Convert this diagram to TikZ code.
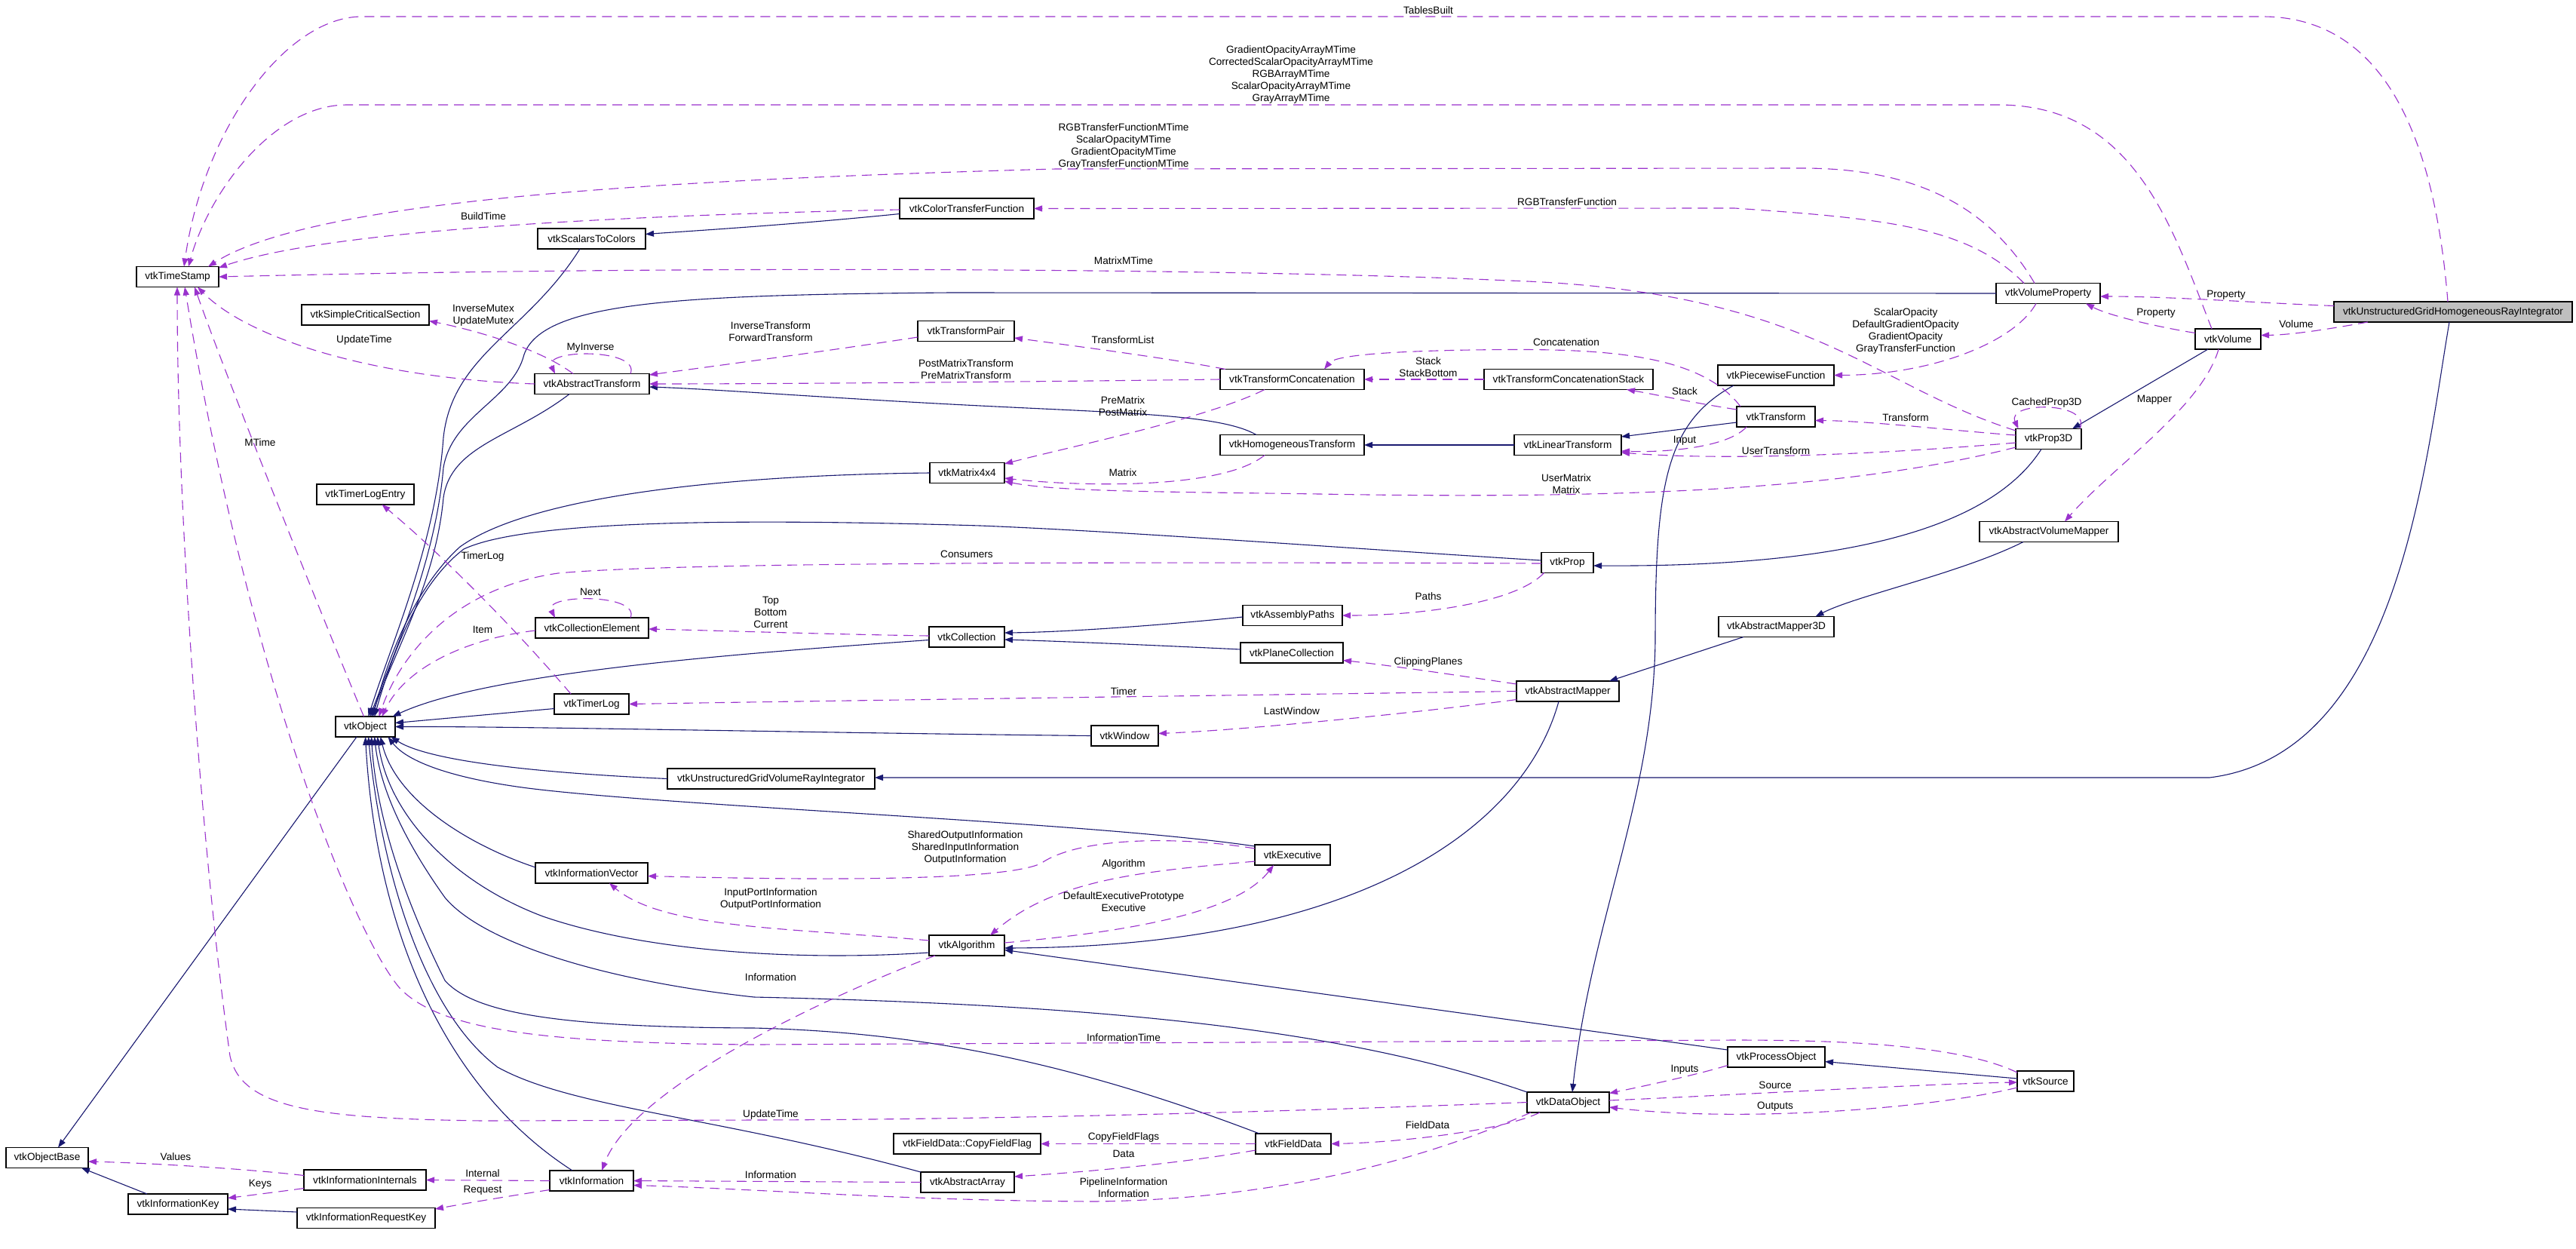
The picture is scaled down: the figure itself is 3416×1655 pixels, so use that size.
\documentclass[tikz,border=0pt]{standalone}
\usepackage{fontspec}
\setmainfont{Liberation Sans}
\usetikzlibrary{arrows.meta,calc}
\definecolor{inhcol}{HTML}{191970}
\definecolor{usecol}{HTML}{9A32CD}
\definecolor{grayfill}{HTML}{BFBFBF}
\begin{document}
\begin{tikzpicture}[x=1pt,y=-1pt,
  every node/.style={font=\fontsize{13.6}{16}\selectfont},
  cbox/.style={draw=black, line width=1.2pt, fill=white, minimum height=27pt, inner sep=0pt, outer sep=0pt},
  lbl/.style={align=center, inner sep=0pt},
  inhedge/.style={draw=inhcol, line width=1.1pt, -{Triangle[length=11pt,width=8pt]}},
  useedge/.style={draw=usecol, line width=1.1pt, dash pattern=on 13pt off 8pt, -{Triangle[length=11pt,width=8pt]}}]
\fill[white] (0,0) rectangle (3416,1655);
\useasboundingbox (0,0) rectangle (3416,1655);

% ---------------- nodes
\node[cbox, minimum width=109pt] (ts) at (235.5,367) {vtkTimeStamp};
\node[cbox, minimum width=143pt] (s2c) at (784.5,316.5) {vtkScalarsToColors};
\node[cbox, minimum width=169pt] (scs) at (484.5,417.5) {vtkSimpleCriticalSection};
\node[cbox, minimum width=178pt] (ctf) at (1282,276.5) {vtkColorTransferFunction};
\node[cbox, minimum width=138pt] (vp) at (2716,389) {vtkVolumeProperty};
\node[cbox, minimum width=316pt, fill=grayfill] (ughri) at (3253,413.5) {vtkUnstructuredGridHomogeneousRayIntegrator};
\node[cbox, minimum width=87pt] (vol) at (2954.5,449.5) {vtkVolume};
\node[cbox, minimum width=87pt] (p3d) at (2716.5,582) {vtkProp3D};
\node[cbox, minimum width=184pt] (avm) at (2717,705) {vtkAbstractVolumeMapper};
\node[cbox, minimum width=152pt] (at) at (785,509) {vtkAbstractTransform};
\node[cbox, minimum width=128pt] (tp) at (1281,439) {vtkTransformPair};
\node[cbox, minimum width=191pt] (tc) at (1713.5,503) {vtkTransformConcatenation};
\node[cbox, minimum width=224pt] (tcs) at (2080,503) {vtkTransformConcatenationStack};
\node[cbox, minimum width=154pt] (pwf) at (2355,497.5) {vtkPiecewiseFunction};
\node[cbox, minimum width=104pt] (tr) at (2355,552.5) {vtkTransform};
\node[cbox, minimum width=191pt] (ht) at (1713.5,590) {vtkHomogeneousTransform};
\node[cbox, minimum width=142pt] (lt) at (2079,590) {vtkLinearTransform};
\node[cbox, minimum width=99pt] (m44) at (1282.5,627) {vtkMatrix4x4};
\node[cbox, minimum width=129pt] (tle) at (484.5,655.5) {vtkTimerLogEntry};
\node[cbox, minimum width=69pt] (prop) at (2078.5,746) {vtkProp};
\node[cbox, minimum width=132pt] (ap) at (1714,816) {vtkAssemblyPaths};
\node[cbox, minimum width=153pt] (am3d) at (2355.5,831) {vtkAbstractMapper3D};
\node[cbox, minimum width=150pt] (ce) at (785,832.5) {vtkCollectionElement};
\node[cbox, minimum width=100pt] (coll) at (1282,844.5) {vtkCollection};
\node[cbox, minimum width=136pt] (pc) at (1713,865.5) {vtkPlaneCollection};
\node[cbox, minimum width=99pt] (tl) at (784.5,933.5) {vtkTimerLog};
\node[cbox, minimum width=79pt] (obj) at (484.5,963.5) {vtkObject};
\node[cbox, minimum width=136pt] (am) at (2079,916.5) {vtkAbstractMapper};
\node[cbox, minimum width=89pt] (win) at (1491.5,975.5) {vtkWindow};
\node[cbox, minimum width=275pt] (ugvri) at (1022.5,1032.5) {vtkUnstructuredGridVolumeRayIntegrator};
\node[cbox, minimum width=149pt] (iv) at (784.5,1157.5) {vtkInformationVector};
\node[cbox, minimum width=100pt] (exe) at (1714,1133.5) {vtkExecutive};
\node[cbox, minimum width=100pt] (alg) at (1282,1253.5) {vtkAlgorithm};
\node[cbox, minimum width=129pt] (po) at (2355.5,1401.5) {vtkProcessObject};
\node[cbox, minimum width=75pt] (src) at (2712.5,1433.5) {vtkSource};
\node[cbox, minimum width=109pt] (dobj) at (2079.5,1461.5) {vtkDataObject};
\node[cbox, minimum width=195pt] (cff) at (1282.5,1516.5) {vtkFieldData::CopyFieldFlag};
\node[cbox, minimum width=100pt] (fd) at (1715,1516.5) {vtkFieldData};
\node[cbox, minimum width=124pt] (aa) at (1283,1567.5) {vtkAbstractArray};
\node[cbox, minimum width=109pt] (ob) at (62.5,1535) {vtkObjectBase};
\node[cbox, minimum width=162pt] (ii) at (484,1564.5) {vtkInformationInternals};
\node[cbox, minimum width=132pt] (ik) at (236,1596.5) {vtkInformationKey};
\node[cbox, minimum width=183pt] (irk) at (485.5,1615) {vtkInformationRequestKey};
\node[cbox, minimum width=111pt] (info) at (784.5,1565.5) {vtkInformation};

% ---------------- inheritance (solid)
\draw[inhedge] ($(obj)+(-11.5,13.5)$) -- ($(ob)+(14.5,-13.5)$);
\draw[inhedge] ($(ik)+(-41,-13.5)$) -- ($(ob)+(45.5,13.5)$);
\draw[inhedge] ($(irk)+(-91.5,-8)$) -- ($(ik)+(66,6.5)$);
\draw[inhedge] ($(s2c)+(-15.5,13.5)$) .. controls (700,440) and (600,470) .. (588,580) .. controls (578,720) and (520,850) .. ($(obj)+(4,-13.5)$);
\draw[inhedge] ($(ctf)+(-89,7)$) .. controls (1050,298) and (920,306) .. ($(s2c)+(71.5,-6)$);
\draw[inhedge] (vp.west) -- (1260,388) .. controls (900,391) and (720,400) .. (695,470) .. controls (680,530) and (600,550) .. (588,620) .. controls (578,740) and (525,860) .. ($(obj)+(6,-13.5)$);
\draw[inhedge] ($(at)+(-30,13.5)$) .. controls (680,580) and (598,590) .. (588,660) .. controls (578,770) and (525,860) .. ($(obj)+(8,-13.5)$);
\draw[inhedge] (m44.west) .. controls (950,630) and (700,660) .. (610,725) .. controls (560,770) and (520,850) .. ($(obj)+(10,-13.5)$);
\draw[inhedge] ($(prop)+(-34.5,-3)$) .. controls (1800,728) and (1500,705) .. (1300,697) .. controls (1000,688) and (700,688) .. (615,728) .. controls (560,770) and (525,850) .. ($(obj)+(12,-13.5)$);
\draw[inhedge] ($(coll)+(-50,4)$) .. controls (1000,865) and (650,890) .. ($(obj)+(36,-13.5)$);
\draw[inhedge] ($(tl)+(-49.5,6)$) -- ($(obj)+(39.5,-5)$);
\draw[inhedge] (win.west) .. controls (1100,972) and (700,963) .. (obj.east);
\draw[inhedge] (ugvri.west) .. controls (720,1025) and (570,1010) .. ($(obj)+(34,13.5)$);
\draw[inhedge] ($(ughri)+(-5,13.5)$) .. controls (3215,620) and (3180,1000) .. (2930,1031) -- ($(ugvri.east)+(0,-1.5)$);
\draw[inhedge] ($(iv)+(-74.5,-7.5)$) .. controls (620,1120) and (525,1060) .. ($(obj)+(20,13.5)$);
\draw[inhedge] ($(exe)+(-50,-11.5)$) .. controls (1450,1090) and (900,1070) .. (700,1045) .. controls (600,1032) and (540,1010) .. ($(obj)+(30,13.5)$);
\draw[inhedge] ($(alg)+(-50,9.5)$) .. controls (1050,1275) and (850,1260) .. (720,1215) .. controls (600,1170) and (515,1080) .. ($(obj)+(16,13.5)$);
\draw[inhedge] ($(dobj)+(-54.5,-13.5)$) .. controls (1800,1370) and (1500,1333) .. (1000,1322) .. controls (800,1300) and (640,1250) .. (590,1190) .. controls (540,1120) and (505,1050) .. ($(obj)+(12,13.5)$);
\draw[inhedge] ($(fd)+(-45,-13.5)$) .. controls (1400,1400) and (1200,1368) .. (1000,1363) .. controls (750,1362) and (630,1345) .. (590,1300) .. controls (550,1220) and (500,1100) .. ($(obj)+(8,13.5)$);
\draw[inhedge] ($(aa)+(-62,-13.5)$) .. controls (950,1480) and (760,1470) .. (660,1415) .. controls (560,1340) and (505,1150) .. ($(obj)+(4,13.5)$);
\draw[inhedge] ($(info)+(-25.5,-13.5)$) .. controls (600,1450) and (500,1250) .. ($(obj)+(0,13.5)$);
\draw[inhedge] ($(ht)+(-47.5,-13.5)$) .. controls (1620,550) and (1500,548) .. (1300,538) .. controls (1100,528) and (950,516) .. ($(at)+(76,4)$);
\draw[inhedge] (lt.west) -- (ht.east);
\draw[inhedge] ($(tr)+(-52,7.5)$) -- ($(lt)+(71,-11)$);
\draw[inhedge] ($(p3d)+(-9.5,13.5)$) .. controls (2640,700) and (2450,752) .. ($(prop)+(34.5,4)$);
\draw[inhedge] ($(vol)+(-26.5,13.5)$) -- ($(p3d)+(31.5,-13.5)$);
\draw[inhedge] ($(avm)+(-34,13.5)$) .. controls (2600,760) and (2460,790) .. ($(am3d)+(52,-13.5)$);
\draw[inhedge] ($(am3d)+(-43.5,13.5)$) -- ($(am)+(55,-13.5)$);
\draw[inhedge] ($(am)+(-12,13.5)$) .. controls (2020,1100) and (1800,1255) .. ($(alg)+(50,3.5)$);
\draw[inhedge] ($(po)+(-64.5,-9.5)$) -- ($(alg)+(50,6)$);
\draw[inhedge] ($(src)+(-37.5,-3.5)$) -- ($(po)+(64.5,6)$);
\draw[inhedge] ($(pwf)+(-56,13.5)$) .. controls (2210,560) and (2195,640) .. (2195,850) .. controls (2192,1060) and (2110,1220) .. ($(dobj)+(5.5,-13.5)$);
\draw[inhedge] ($(ap.west)+(0,2)$) .. controls (1550,828) and (1420,838) .. ($(coll)+(50,-5.5)$);
\draw[inhedge] ($(pc)+(-68,-4.5)$) .. controls (1520,855) and (1400,850) .. ($(coll)+(50,3.5)$);

% ---------------- usage (dashed)
\draw[useedge] ($(ughri)+(-7,-13.5)$) .. controls (3230,200) and (3170,22) .. (3000,22) -- (480,22) .. controls (380,22) and (270,170) .. ($(ts)+(8.5,-13.5)$);
\draw[useedge] ($(vol)+(-21.5,-13.5)$) .. controls (2880,300) and (2830,139) .. (2650,139) -- (460,139) .. controls (360,139) and (275,260) .. ($(ts)+(14.5,-13.5)$);
\draw[useedge] ($(vp)+(-18,-13.5)$) .. controls (2630,260) and (2520,223) .. (2390,223) -- (1400,224) .. controls (900,238) and (420,262) .. ($(ts)+(40.5,-13.5)$);
\draw[useedge] ($(vp)+(-32,-13.5)$) .. controls (2610,300) and (2500,290) .. (2300,276) -- (ctf.east);
\draw[useedge] ($(ctf)+(-89,1.5)$) .. controls (900,284) and (450,300) .. ($(ts)+(54.5,-12)$);
\draw[useedge] ($(vp)+(-16,13.5)$) .. controls (2670,455) and (2560,497) .. (pwf.east);
\draw[useedge] ($(ughri)+(-158,-8)$) .. controls (3000,402) and (2880,393) .. ($(vp)+(69,4)$);
\draw[useedge] ($(vol)+(-43.5,-8)$) .. controls (2870,435) and (2800,420) .. ($(vp)+(50,13.5)$);
\draw[useedge] ($(ughri)+(-113,13.5)$) .. controls (3090,436) and (3040,444) .. ($(vol)+(43.5,-5)$);
\draw[useedge] ($(vol)+(-12.5,13.5)$) .. controls (2920,540) and (2800,620) .. ($(avm)+(21,-13.5)$);
\draw[useedge] ($(p3d)+(41.5,-13.5)$) .. controls (2774,532) and (2660,532) .. ($(p3d)+(-40,-13.5)$);
\draw[useedge] ($(p3d)+(-43.5,-11)$) .. controls (2480,510) and (2400,385) .. (2000,372) .. controls (1700,358) and (1000,350) .. (ts.east);
\draw[useedge] ($(p3d)+(-43.5,-5)$) .. controls (2600,572) and (2480,558) .. ($(tr.east)+(0,5)$);
\draw[useedge] ($(p3d)+(-43.5,5)$) .. controls (2520,600) and (2300,612) .. ($(lt.east)+(0,10)$);
\draw[useedge] ($(p3d)+(-43.5,11)$) .. controls (2450,650) and (2150,662) .. (1750,655) .. controls (1550,652) and (1400,652) .. ($(m44.east)+(0,11)$);
\draw[useedge] ($(at)+(-25,-13.5)$) .. controls (720,465) and (640,440) .. ($(scs.east)+(0,8)$);
\draw[useedge] ($(at)+(51,-13.5)$) .. controls (850,462) and (720,462) .. ($(at)+(-49,-13.5)$);
\draw[useedge] (at.west) .. controls (500,502) and (330,450) .. ($(ts)+(26.5,13.5)$);
\draw[useedge] ($(tp)+(-64,8)$) .. controls (1100,465) and (950,485) .. ($(at)+(76,-12)$);
\draw[useedge] (tc.west) .. controls (1300,507) and (1000,509) .. (at.east);
\draw[useedge] ($(tc)+(-88.5,-13.5)$) .. controls (1550,475) and (1420,458) .. ($(tp)+(64,9)$);
\draw[useedge] ($(tc)+(-36.5,13.5)$) .. controls (1600,555) and (1420,592) .. ($(m44)+(49.5,-12)$);
\draw[useedge] (tcs.west) -- (tc.east);
\draw[useedge] ($(tr)+(-47,-13.5)$) .. controls (2250,462) and (2100,462) .. (1950,464) .. controls (1830,466) and (1770,472) .. ($(tc)+(42.5,-13.5)$);
\draw[useedge] ($(tr)+(-52,-9.5)$) .. controls (2250,535) and (2190,522) .. ($(tcs)+(77,13.5)$);
\draw[useedge] ($(tr)+(-39,13.5)$) .. controls (2290,595) and (2200,600) .. ($(lt.east)+(0,8)$);
\draw[useedge] ($(ht)+(-36.5,13.5)$) .. controls (1620,650) and (1430,645) .. ($(m44.east)+(0,7)$);
\draw[useedge] ($(tl)+(-27.5,-13.5)$) .. controls (680,830) and (580,730) .. ($(tle)+(22,13.5)$);
\draw[useedge] ($(prop.west)+(0,1)$) .. controls (1500,745) and (900,745) .. (740,760) .. controls (600,780) and (530,870) .. ($(obj)+(18,-13.5)$);
\draw[useedge] ($(prop)+(-31,13.5)$) .. controls (2010,800) and (1880,816) .. (ap.east);
\draw[useedge] ($(ce.west)+(0,3.5)$) .. controls (630,845) and (540,880) .. ($(obj)+(22,-13.5)$);
\draw[useedge] ($(ce)+(51,-13.5)$) .. controls (850,787) and (720,787) .. ($(ce)+(-49,-13.5)$);
\draw[useedge] ($(coll.west)+(0,-1.5)$) .. controls (1100,841) and (950,836) .. ($(ce.east)+(0,1.5)$);
\draw[useedge] ($(am)+(-68,-9.5)$) .. controls (1950,898) and (1850,883) .. ($(pc)+(68,10)$);
\draw[useedge] (am.west) .. controls (1700,921) and (1100,929) .. (tl.east);
\draw[useedge] ($(am)+(-68,11)$) .. controls (1880,945) and (1650,968) .. ($(win.east)+(0,-3)$);
\draw[useedge] ($(exe)+(-50,-8.5)$) .. controls (1560,1108) and (1430,1110) .. (1380,1145) .. controls (1320,1172) and (1000,1165) .. ($(iv.east)+(0,4)$);
\draw[useedge] ($(alg)+(-50,-6.5)$) .. controls (1050,1230) and (880,1232) .. ($(iv)+(23.5,13.5)$);
\draw[useedge] ($(exe)+(-50,8.5)$) .. controls (1520,1155) and (1400,1165) .. ($(alg)+(31,-13.5)$);
\draw[useedge] ($(alg.east)+(0,-3.5)$) .. controls (1500,1235) and (1640,1210) .. ($(exe)+(-25,13.5)$);
\draw[useedge] ($(alg)+(-42,13.5)$) .. controls (1100,1320) and (840,1440) .. ($(info)+(13.5,-13.5)$);
\draw[useedge] ($(src)+(-37.5,-11.5)$) .. controls (2600,1386) and (2450,1379) .. (2300,1379) -- (1000,1385) .. controls (700,1383) and (580,1362) .. (530,1310) .. controls (470,1240) and (330,900) .. ($(ts)+(9.5,13.5)$);
\draw[useedge] (dobj.west) .. controls (1800,1470) and (1400,1484) .. (1000,1485) -- (640,1486) .. controls (420,1483) and (320,1470) .. (305,1400) .. controls (270,1150) and (235,700) .. ($(ts)+(-0.5,13.5)$);
\draw[useedge] ($(po)+(-64.5,11)$) .. controls (2250,1425) and (2180,1440) .. ($(dobj)+(54.5,-12)$);
\draw[useedge] ($(dobj.east)+(0,-2.5)$) .. controls (2300,1452) and (2550,1437) .. ($(src.west)+(0,1.5)$);
\draw[useedge] ($(src)+(-37.5,8.5)$) .. controls (2550,1472) and (2300,1488) .. ($(dobj.east)+(0,6.5)$);
\draw[useedge] ($(dobj)+(-37.5,13.5)$) .. controls (1990,1500) and (1850,1515) .. (fd.east);
\draw[useedge] ($(dobj)+(-49.5,13.5)$) .. controls (1950,1510) and (1750,1590) .. (1450,1593) .. controls (1200,1592) and (1000,1576) .. ($(info.east)+(0,6)$);
\draw[useedge] (fd.west) -- (cff.east);
\draw[useedge] ($(fd)+(-50,8.5)$) .. controls (1550,1545) and (1420,1555) .. ($(aa)+(62,-7.5)$);
\draw[useedge] (aa.west) -- (info.east);
\draw[useedge] (info.west) -- (ii.east);
\draw[useedge] ($(info)+(-55.5,12)$) .. controls (680,1585) and (620,1595) .. ($(irk)+(91.5,-12)$);
\draw[useedge] ($(ii)+(-81,-6)$) .. controls (330,1550) and (200,1542) .. ($(ob.east)+(0,5)$);
\draw[useedge] ($(ii)+(-81,11)$) .. controls (370,1580) and (330,1585) .. ($(ik)+(66,-8)$);
\draw[useedge] ($(obj)+(-2,-13.5)$) .. controls (420,800) and (300,500) .. ($(ts)+(22.5,13.5)$);

% ---------------- labels
\node[lbl] (l01) at (1894,14) {TablesBuilt};
\node[lbl] (l02) at (1712,99) {GradientOpacityArrayMTime\\CorrectedScalarOpacityArrayMTime\\RGBArrayMTime\\ScalarOpacityArrayMTime\\GrayArrayMTime};
\node[lbl] (l03) at (1490,194) {RGBTransferFunctionMTime\\ScalarOpacityMTime\\GradientOpacityMTime\\GrayTransferFunctionMTime};
\node[lbl] (l04) at (641,287) {BuildTime};
\node[lbl] (l05) at (2078,268) {RGBTransferFunction};
\node[lbl] (l06) at (1490,346) {MatrixMTime};
\node[lbl] (l07) at (2952,391) {Property};
\node[lbl] (l08) at (2859,415) {Property};
\node[lbl] (l09) at (3045,430) {Volume};
\node[lbl] (l10) at (2527,439) {ScalarOpacity\\DefaultGradientOpacity\\GradientOpacity\\GrayTransferFunction};
\node[lbl] (l11) at (641,418) {InverseMutex\\UpdateMutex};
\node[lbl] (l12) at (483,451) {UpdateTime};
\node[lbl] (l13) at (783,461) {MyInverse};
\node[lbl] (l14) at (1022,440) {InverseTransform\\ForwardTransform};
\node[lbl] (l15) at (1281,490) {PostMatrixTransform\\PreMatrixTransform};
\node[lbl] (l16) at (1489,451) {TransformList};
\node[lbl] (l17) at (2077,454) {Concatenation};
\node[lbl] (l18) at (1894,487) {Stack\\StackBottom};
\node[lbl] (l19) at (2234,519) {Stack};
\node[lbl] (l20) at (2714,534) {CachedProp3D};
\node[lbl] (l21) at (2857,530) {Mapper};
\node[lbl] (l22) at (2527,554) {Transform};
\node[lbl] (l23) at (1489,539) {PreMatrix\\PostMatrix};
\node[lbl] (l24) at (2234,584) {Input};
\node[lbl] (l25) at (2355,598) {UserTransform};
\node[lbl] (l26) at (1489,627) {Matrix};
\node[lbl] (l27) at (2077,642) {UserMatrix\\Matrix};
\node[lbl] (l28) at (345,587) {MTime};
\node[lbl] (l29) at (640,738) {TimerLog};
\node[lbl] (l30) at (1282,735) {Consumers};
\node[lbl] (l31) at (783,785) {Next};
\node[lbl] (l32) at (1894,791) {Paths};
\node[lbl] (l33) at (1022,812) {Top\\Bottom\\Current};
\node[lbl] (l34) at (640,835) {Item};
\node[lbl] (l35) at (1894,878) {ClippingPlanes};
\node[lbl] (l36) at (1490,917) {Timer};
\node[lbl] (l37) at (1713,943) {LastWindow};
\node[lbl] (l38) at (1280,1124) {SharedOutputInformation\\SharedInputInformation\\OutputInformation};
\node[lbl] (l39) at (1490,1146) {Algorithm};
\node[lbl] (l40) at (1022,1192) {InputPortInformation\\OutputPortInformation};
\node[lbl] (l41) at (1490,1196) {DefaultExecutivePrototype\\Executive};
\node[lbl] (l42) at (1022,1296) {Information};
\node[lbl] (l43) at (1490,1376) {InformationTime};
\node[lbl] (l44) at (2234,1418) {Inputs};
\node[lbl] (l45) at (2354,1439) {Source};
\node[lbl] (l46) at (2354,1467) {Outputs};
\node[lbl] (l47) at (1022,1478) {UpdateTime};
\node[lbl] (l48) at (1893,1492) {FieldData};
\node[lbl] (l49) at (1490,1508) {CopyFieldFlags};
\node[lbl] (l50) at (1490,1530) {Data};
\node[lbl] (l51) at (233,1534) {Values};
\node[lbl] (l52) at (640,1556) {Internal};
\node[lbl] (l53) at (1022,1558) {Information};
\node[lbl] (l54) at (1490,1575) {PipelineInformation\\Information};
\node[lbl] (l55) at (345,1570) {Keys};
\node[lbl] (l56) at (640,1578) {Request};
\end{tikzpicture}
\end{document}
